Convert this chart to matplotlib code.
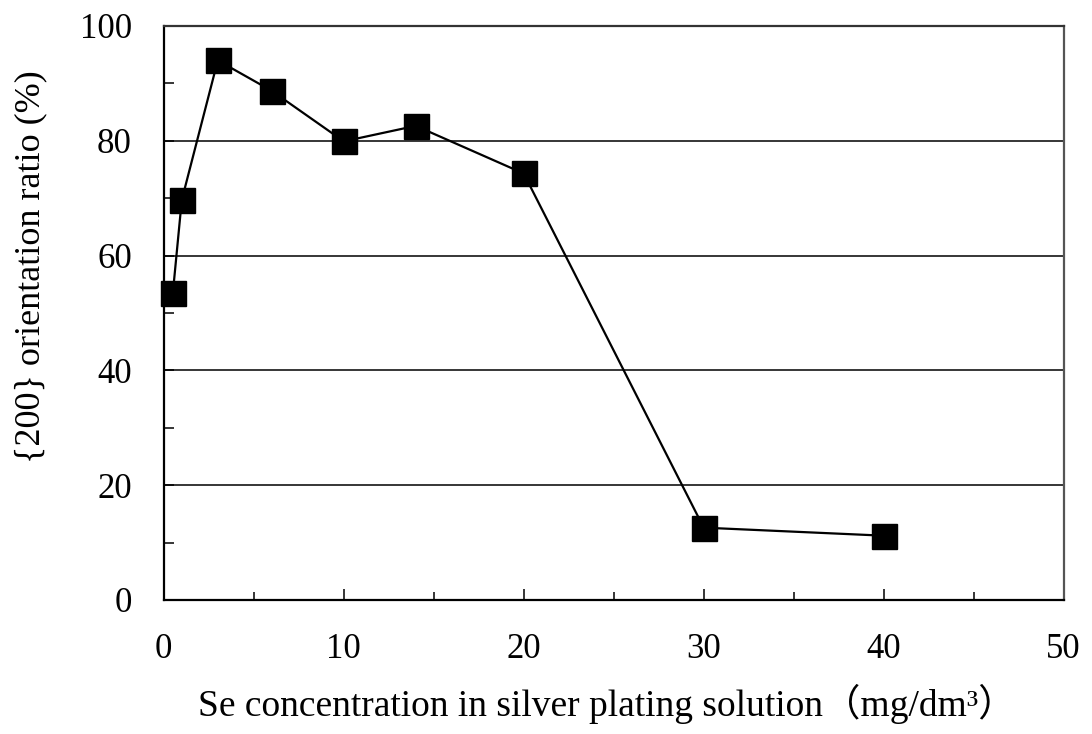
import numpy as np
import matplotlib.pyplot as plt
from matplotlib.ticker import MultipleLocator

# Se concentration (mg/dm3) and {200} orientation ratio (%)
se_conc = [0.5, 1, 3, 6, 10, 14, 20, 30, 40]
ratio = [53.4, 69.7, 94.0, 88.7, 79.9, 82.6, 74.3, 12.6, 11.2]

plt.rcParams['font.family'] = ['Liberation Serif', 'Noto Sans CJK JP', 'DejaVu Serif']

fig = plt.figure(figsize=(10.92, 7.34), dpi=100)
ax = fig.add_axes([0.150, 0.1826, 0.824, 0.7820])

ax.plot(se_conc, ratio, color='k', lw=1.6, marker='s', ms=18,
        mfc='k', mec='k', zorder=3, clip_on=False)

ax.set_xlim(0, 50)
ax.set_ylim(0, 100)
ax.xaxis.set_major_locator(MultipleLocator(10))
ax.xaxis.set_minor_locator(MultipleLocator(5))
ax.yaxis.set_major_locator(MultipleLocator(20))
ax.yaxis.set_minor_locator(MultipleLocator(10))

# horizontal grid only
ax.yaxis.grid(True, which='major', color='k', lw=1.1)
ax.set_axisbelow(True)

ax.tick_params(axis='both', which='both', direction='in', colors='k',
               labelsize=25)
ax.tick_params(axis='x', which='major', length=8, width=1.1, pad=24)
ax.tick_params(axis='x', which='minor', length=6, width=1.1)
ax.tick_params(axis='y', which='both', length=7, width=1.1, pad=23)

for s in ax.spines.values():
    s.set_linewidth(1.6)
    s.set_color('k')
ax.spines['right'].set_color('#555555')
ax.spines['top'].set_color('#333333')

ax.set_xlabel('Se concentration in silver plating solution（mg/dm³）', fontsize=27)
ax.set_ylabel('{200} orientation ratio (%)', fontsize=26)
ax.xaxis.set_label_coords(0.492, -0.146)
ax.yaxis.set_label_coords(-0.129, 0.58)

fig.savefig('out.png', dpi=100)
